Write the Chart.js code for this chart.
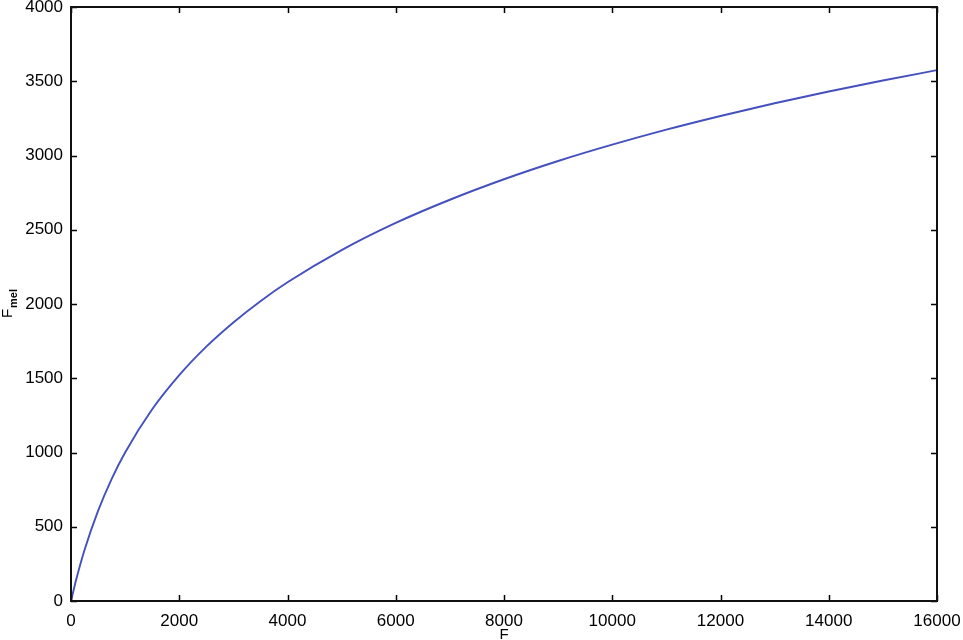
<!DOCTYPE html>
<html>
<head>
<meta charset="utf-8">
<script src="https://cdn.jsdelivr.net/npm/chart.js@4"></script>
<style>
  html, body { margin: 0; padding: 0; background: #fff; }
  #wrap { width: 963px; height: 640px; }
</style>
</head>
<body>
<div id="wrap"><canvas id="chart" width="963" height="640"></canvas></div>
<script>
// frequency in Hz and the mel value
const freqHz = [0, 100, 250, 500, 750, 1000, 1500, 2000, 2500, 3000, 3500, 4000, 5000,
    6000, 7000, 8000, 9000, 10000, 11000, 12000, 13000, 14000, 15000, 16000];
const melValues = [0, 150, 344, 607, 821, 1000, 1291, 1521, 1713, 1876, 2019, 2146, 2363,
    2546, 2702, 2840, 2963, 3073, 3174, 3266, 3352, 3431, 3505, 3575];

const xTicks = [0, 2000, 4000, 6000, 8000, 10000, 12000, 14000, 16000];
const yTicks = [0, 500, 1000, 1500, 2000, 2500, 3000, 3500, 4000];

const FONT = 'Liberation Sans, Arial, Helvetica, sans-serif';

// matlab style box with inward ticks on all four sides
const boxPlugin = {
    id: 'box',
    afterDraw(chart) {
        const { ctx, chartArea: a, scales } = chart;
        const len = 6;
        ctx.save();
        ctx.strokeStyle = '#000';
        ctx.lineWidth = 1.5;
        ctx.beginPath();
        for (const v of xTicks) {
            const px = Math.round(scales.x.getPixelForValue(v)) + 0.5;
            ctx.moveTo(px, a.bottom); ctx.lineTo(px, a.bottom - len);
            ctx.moveTo(px, a.top); ctx.lineTo(px, a.top + len);
        }
        for (const v of yTicks) {
            const py = Math.round(scales.y.getPixelForValue(v)) + 0.5;
            ctx.moveTo(a.left, py); ctx.lineTo(a.left + len, py);
            ctx.moveTo(a.right, py); ctx.lineTo(a.right - len, py);
        }
        ctx.stroke();
        ctx.lineWidth = 2;
        ctx.strokeStyle = '#111';
        ctx.strokeRect(a.left, a.top, a.right - a.left, a.bottom - a.top);

        // y label: F with subscript mel
        ctx.fillStyle = '#000';
        ctx.translate(12, 318);
        ctx.rotate(-Math.PI / 2);
        ctx.textBaseline = 'alphabetic';
        ctx.font = '15px ' + FONT;
        ctx.fillText('F', 0, 0);
        ctx.font = 'bold 11px ' + FONT;
        ctx.fillText('mel', 10, 5);
        ctx.restore();
    }
};

const ctx = document.getElementById('chart').getContext('2d');
new Chart(ctx, {
    type: 'line',
    data: {
        labels: freqHz,
        datasets: [{
            data: freqHz.map((f, i) => ({ x: f, y: melValues[i] })),
            borderColor: 'rgb(68, 80, 190)',
            borderWidth: 1.9,
            pointRadius: 0,
            fill: false,
            cubicInterpolationMode: 'monotone',
        }]
    },
    options: {
        responsive: false,
        animation: false,
        layout: { padding: { left: 0, top: 7, right: 26, bottom: 0 } },
        plugins: {
            legend: { display: false },
            tooltip: { enabled: false },
        },
        scales: {
            x: {
                type: 'linear',
                min: 0,
                max: 16000,
                afterBuildTicks: s => { s.ticks = xTicks.map(v => ({ value: v })); },
                afterFit: s => { s.height = 39; s.paddingLeft = 0; s.paddingRight = 0; },
                grid: { drawOnChartArea: false, drawTicks: false },
                border: { display: false },
                ticks: {
                    color: '#000',
                    padding: 10,
                    maxRotation: 0,
                    font: { family: FONT, size: 17 },
                    callback: v => String(v),
                },
                title: {
                    display: true,
                    text: 'F',
                    color: '#000',
                    padding: { top: 0, bottom: -4 },
                    font: { family: FONT, size: 15 },
                },
            },
            y: {
                min: 0,
                max: 4000,
                afterBuildTicks: s => { s.ticks = yTicks.map(v => ({ value: v })); },
                afterFit: s => { s.width = 71; s.paddingTop = 0; s.paddingBottom = 0; },
                grid: { drawOnChartArea: false, drawTicks: false },
                border: { display: false },
                ticks: {
                    color: '#000',
                    padding: 8,
                    font: { family: FONT, size: 17 },
                    callback: v => String(v),
                },
            },
        },
    },
    plugins: [boxPlugin],
});
</script>
</body>
</html>
